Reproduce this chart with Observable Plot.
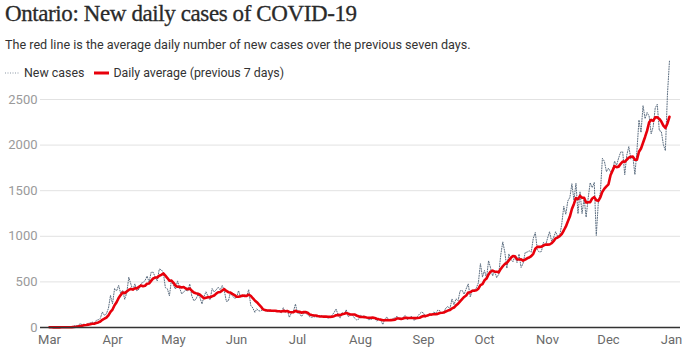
<!DOCTYPE html>
<html><head><meta charset="utf-8">
<script src="https://cdn.jsdelivr.net/npm/d3@7"></script>
<script src="https://cdn.jsdelivr.net/npm/@observablehq/plot@0.6"></script>
<style>
body{margin:0;background:#fff;width:684px;height:352px;overflow:hidden;position:relative;font-family:Roboto,sans-serif;color:#333;}
#chart{position:absolute;left:0;top:50px;}
#title{position:absolute;left:5px;top:0px;font-family:"Liberation Serif",serif;font-size:23px;letter-spacing:-0.4px;color:#2a2a2a;white-space:nowrap;line-height:28px;z-index:2;-webkit-text-stroke:0.3px #2a2a2a;}
#sub{position:absolute;left:5px;top:37px;font-size:12.6px;line-height:16px;white-space:nowrap;z-index:2;}
#legend{position:absolute;left:5px;top:65px;font-size:12.4px;line-height:16px;white-space:nowrap;display:flex;align-items:center;z-index:2;}
#legend svg{margin-right:4px;}
</style></head><body>
<div id="chart"></div>
<div id="title">Ontario: New daily cases of COVID-19</div>
<div id="sub">The red line is the average daily number of new cases over the previous seven days.</div>
<div id="legend"></div>
<script>
// Daily new cases, one value per day starting at startDate
const startDate = Date.UTC(2020, 2, 1);
const newCases = [
  2,
  3,0,2,1,3,5,0,4,5,4,5,17,20,20,42,32,36,25,44,49,59,48,78,85,100,170,135,151,211,351,260,
  426,401,462,375,408,309,379,550,478,411,478,401,421,483,494,514,564,497,606,606,551,510,640,634,601,437,424,347,525,459,
  421,511,434,370,387,412,399,477,346,294,308,361,329,258,341,391,340,304,427,390,413,441,412,460,404,287,292,383,344,323,326,
  404,335,338,356,344,415,243,215,167,203,182,182,203,184,181,173,190,173,180,178,176,161,216,163,189,111,160,178,257,157,
  153,121,154,160,138,118,112,118,116,118,130,129,111,116,102,111,135,164,203,135,103,165,144,195,116,140,137,105,84,89,134,
  121,129,104,86,88,95,102,70,88,76,33,95,115,78,80,99,104,125,88,89,114,131,88,98,124,84,83,118,148,169,158,
  114,133,148,132,169,158,190,185,149,170,213,232,204,313,251,315,293,401,407,365,425,478,335,409,409,435,491,700,554,625,
  538,732,653,566,615,548,583,797,939,826,649,807,746,721,783,712,805,658,704,821,827,841,826,978,1042,851,827,834,934,896,977,
  1050,948,987,1050,998,1003,1132,1328,1242,1388,1426,1575,1396,1581,1248,1487,1249,1417,1210,1418,1588,1534,1589,1009,1373,1478,1855,1822,1708,1746,
  1707,1723,1824,1780,1859,1924,1925,1676,1890,1983,1848,1873,1677,1940,2275,2139,2432,2290,2357,2316,2123,2202,2408,2447,2159,2150,2005,1939,2553,2923
];
const yTicks = [0, 500, 1000, 1500, 2000, 2500];
const monthLabels = ["Mar","Apr","May","Jun","Jul","Aug","Sep","Oct","Nov","Dec","Jan"];
const monthTicks = monthLabels.map((m, i) => new Date(Date.UTC(2020, 2 + i, 1)));
const legendItems = ["New cases", "Daily average (previous 7 days)"];

const DAY = 86400000;
const data = newCases.map((v, i) => ({date: new Date(startDate + i * DAY), cases: v}));

const chart = Plot.plot({
  width: 684, height: 302,
  marginLeft: 40, marginRight: 4, marginTop: 3.4, marginBottom: 25,
  style: {background: "transparent", fontFamily: 'Roboto, sans-serif', fontSize: "13px", overflow: "visible"},
  x: {type: "utc", domain: [new Date(Date.UTC(2020,1,25,13,40)), new Date(Date.UTC(2021,0,5,10,20))]},
  y: {domain: [0, 3000]},
  marks: [
    Plot.ruleY(yTicks.slice(1), {stroke: "#e2e2e2", strokeWidth: 1}),
    Plot.axisY({ticks: yTicks, tickSize: 0, tickPadding: 3, label: null, fill: "#9a9a9a", fontSize: 13, tickFormat: d => String(d)}),
    Plot.axisX({ticks: monthTicks, tickSize: 0, tickPadding: 7, label: null, fill: "#6a6a6a", fontSize: 13,
      tickFormat: d => monthLabels[(d.getUTCMonth() + 10) % 12]}),
    Plot.line(data, {x: "date", y: "cases", stroke: "#5b6d80", strokeWidth: 1, strokeDasharray: "1,1.5"}),
    Plot.line(data, Plot.windowY({k: 7, anchor: "end", reduce: "mean"}, {x: "date", y: "cases", stroke: "#e8000b", strokeWidth: 2.6, strokeLinejoin: "round"})),
    Plot.ruleY([0], {stroke: "#333", strokeWidth: 1.5})
  ]
});
document.getElementById("chart").appendChild(chart);

const lg = document.getElementById("legend");
lg.innerHTML =
  `<svg width="15" height="6"><line x1="0" x2="15" y1="3" y2="3" stroke="#8a97a4" stroke-width="1" stroke-dasharray="1,1.5"/></svg><span>${legendItems[0]}</span>` +
  `<svg width="15" height="6" style="margin-left:10px"><line x1="0" x2="15" y1="3" y2="3" stroke="#e8000b" stroke-width="3"/></svg><span>${legendItems[1]}</span>`;
</script>
</body></html>
